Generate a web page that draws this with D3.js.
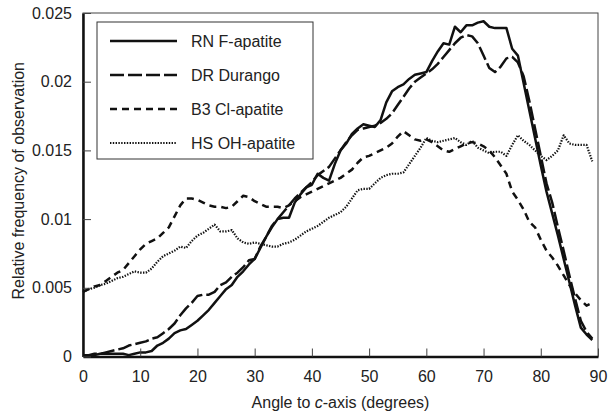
<!DOCTYPE html>
<html>
<head>
<meta charset="utf-8">
<script src="https://cdn.jsdelivr.net/npm/d3@7"></script>
<style>
  body { margin: 0; background: #fff; }
  text { font-family: "Liberation Sans", Arial, sans-serif; fill: #222; }
</style>
</head>
<body>
<svg id="chart" width="616" height="414"></svg>
<script>
// angle bins (degrees)
const angles = [0,1,2,3,4,5,6,7,8,9,10,11,12,13,14,15,16,17,18,19,
  20,21,22,23,24,25,26,27,28,29,30,31,32,33,34,35,36,37,38,39,
  40,41,42,43,44,45,46,47,48,49,50,51,52,53,54,55,56,57,58,59,
  60,61,62,63,64,65,66,67,68,69,70,71,72,73,74,75,76,77,78,79,
  80,81,82,83,84,85,86,87,88,89]

const rnF = [0.0001,0.0001,0.0001,0.0002,0.0002,0.0002,0.0002,0.0002,0.0001,0.0002,
  0.0003,0.0003,0.0004,0.0008,0.0010,0.0013,0.0017,0.0019,0.0020,0.0023,
  0.0026,0.0030,0.0034,0.0039,0.0044,0.0049,0.0052,0.0058,0.0062,0.0067,
  0.0071,0.0079,0.0087,0.0094,0.0100,0.0101,0.0101,0.0112,0.0118,0.0123,
  0.0125,0.0133,0.0130,0.0128,0.0140,0.0150,0.0155,0.0162,0.0166,0.0169,
  0.0168,0.0167,0.0172,0.0185,0.0193,0.0196,0.0198,0.0202,0.0205,0.0206,
  0.0207,0.0215,0.0222,0.0228,0.0227,0.0240,0.0236,0.0241,0.0241,0.0243,
  0.0244,0.0240,0.0239,0.0239,0.0239,0.0224,0.0219,0.0199,0.0179,0.0159,
  0.0139,0.0120,0.0104,0.0088,0.0071,0.0054,0.0037,0.0021,0.0016,0.0012]

const drDurango = [0.0001,0.0001,0.0002,0.0002,0.0003,0.0004,0.0005,0.0006,0.0008,0.0009,
  0.0010,0.0011,0.0013,0.0014,0.0017,0.0020,0.0024,0.0030,0.0035,0.0039,
  0.0044,0.0045,0.0045,0.0047,0.0052,0.0054,0.0058,0.0061,0.0065,0.0070,
  0.0071,0.0080,0.0087,0.0095,0.0100,0.0105,0.0110,0.0115,0.0119,0.0123,
  0.0127,0.0132,0.0135,0.0138,0.0144,0.0150,0.0156,0.0161,0.0165,0.0166,
  0.0167,0.0168,0.0170,0.0173,0.0177,0.0183,0.0189,0.0195,0.0200,0.0203,
  0.0206,0.0209,0.0213,0.0218,0.0223,0.0228,0.0232,0.0234,0.0233,0.0228,
  0.0219,0.0210,0.0207,0.0211,0.0217,0.0218,0.0214,0.0204,0.0186,0.0166,
  0.0146,0.0126,0.0112,0.0094,0.0077,0.0059,0.0042,0.0026,0.0018,0.0013]

const b3Cl = [0.0047,0.0049,0.0051,0.0052,0.0055,0.0058,0.0061,0.0063,0.0068,0.0073,
  0.0078,0.0082,0.0084,0.0086,0.0090,0.0094,0.0102,0.0110,0.0115,0.0115,
  0.0114,0.0112,0.0110,0.0109,0.0109,0.0108,0.0109,0.0113,0.0117,0.0116,
  0.0113,0.0111,0.0109,0.0109,0.0109,0.0108,0.0110,0.0113,0.0116,0.0118,
  0.0120,0.0122,0.0124,0.0126,0.0128,0.0130,0.0133,0.0136,0.0141,0.0145,
  0.0146,0.0148,0.0150,0.0152,0.0155,0.0160,0.0164,0.0161,0.0158,0.0157,
  0.0158,0.0156,0.0153,0.0150,0.0149,0.0151,0.0153,0.0155,0.0156,0.0155,
  0.0153,0.0150,0.0145,0.0139,0.0133,0.0120,0.0114,0.0107,0.0098,0.0094,
  0.0085,0.0077,0.0072,0.0066,0.0059,0.0052,0.0046,0.0041,0.0037,0.0039]

const hsOH = [0.0047,0.0049,0.0050,0.0052,0.0053,0.0055,0.0057,0.0058,0.0060,0.0062,
  0.0061,0.0061,0.0064,0.0069,0.0073,0.0075,0.0077,0.0080,0.0079,0.0084,
  0.0088,0.0090,0.0093,0.0096,0.0091,0.0091,0.0092,0.0086,0.0083,0.0082,
  0.0083,0.0082,0.0081,0.0080,0.0080,0.0082,0.0083,0.0085,0.0088,0.0091,
  0.0093,0.0095,0.0098,0.0101,0.0103,0.0105,0.0109,0.0115,0.0121,0.0122,
  0.0122,0.0126,0.0130,0.0132,0.0133,0.0133,0.0134,0.0140,0.0146,0.0152,
  0.0159,0.0157,0.0156,0.0157,0.0158,0.0159,0.0156,0.0154,0.0157,0.0152,
  0.0150,0.0148,0.0149,0.0149,0.0146,0.0154,0.0161,0.0157,0.0154,0.0150,
  0.0146,0.0143,0.0146,0.0150,0.0161,0.0155,0.0154,0.0154,0.0154,0.0142]

const seriesNames = ['RN F-apatite', 'DR Durango', 'B3 Cl-apatite', 'HS OH-apatite']
const xTicks = [0,10,20,30,40,50,60,70,80,90]
const yTicks = [0,0.005,0.01,0.015,0.02,0.025]

const series = [
  {name: seriesNames[0], values: rnF, dash: null, width: 2.5},
  {name: seriesNames[1], values: drDurango, dash: '14,4', width: 2.5},
  {name: seriesNames[2], values: b3Cl, dash: '7,5', width: 2.5},
  {name: seriesNames[3], values: hsOH, dash: '1.4,1.4', width: 2.2}
]

let margin = {top: 13, right: 18, bottom: 57.5, left: 83},
    outerWidth = 616,
    outerHeight = 414,
    width = outerWidth - margin.left - margin.right,
    height = outerHeight - margin.top - margin.bottom

let svg = d3.select('#chart')

let x = d3.scaleLinear().domain([0, 90]).range([margin.left, margin.left + width])
let y = d3.scaleLinear().domain([0, 0.025]).range([margin.top + height, margin.top])

// frame (top/right thin)
svg.append('rect')
    .attr('x', margin.left).attr('y', margin.top)
    .attr('width', width).attr('height', height)
    .attr('fill', 'none').attr('stroke', '#444').attr('stroke-width', 1)

// lines, drawn back to front
let line = d3.line()
    .x((d, i) => x(angles[i]))
    .y(d => y(d))

series.slice().reverse().forEach(s => {
    svg.append('path')
        .datum(s.values)
        .attr('d', line)
        .attr('fill', 'none')
        .attr('stroke', '#111')
        .attr('stroke-width', s.width)
        .attr('stroke-linejoin', 'round')
        .attr('stroke-dasharray', s.dash)
})

// axes
let xAxis = svg.append('g')
    .attr('transform', `translate(0,${margin.top + height})`)
    .call(d3.axisBottom(x).tickValues(xTicks).tickSizeInner(-8).tickSizeOuter(0).tickPadding(14))
xAxis.select('.domain').attr('stroke', '#111').attr('stroke-width', 2.5)
xAxis.selectAll('.tick line').attr('stroke', '#444')

let yAxis = svg.append('g')
    .attr('transform', `translate(${margin.left},0)`)
    .call(d3.axisLeft(y).tickValues(yTicks).tickFormat(d => +d.toFixed(3))
        .tickSizeInner(-8).tickSizeOuter(0).tickPadding(11))
yAxis.select('.domain').attr('stroke', '#111').attr('stroke-width', 2.5)
yAxis.selectAll('.tick line').attr('stroke', '#444')

svg.selectAll('.tick text')
    .attr('font-size', 16)
    .attr('font-family', '"Liberation Sans", Arial, sans-serif')
    .attr('fill', '#222')

// axis titles
let xTitle = svg.append('text')
    .attr('x', margin.left + width / 2)
    .attr('y', 408)
    .attr('text-anchor', 'middle')
    .attr('font-size', 16)
xTitle.append('tspan').text('Angle to ')
xTitle.append('tspan').attr('font-style', 'italic').text('c')
xTitle.append('tspan').text('-axis (degrees)')

svg.append('text')
    .attr('transform', `translate(24,${margin.top + height / 2 - 4}) rotate(-90)`)
    .attr('text-anchor', 'middle')
    .attr('font-size', 16)
    .text('Relative frequency of observation')

// legend
let legend = svg.append('g')
legend.append('rect')
    .attr('x', 97).attr('y', 22).attr('width', 216).attr('height', 137)
    .attr('fill', '#fff').attr('stroke', '#333').attr('stroke-width', 1)

series.forEach((s, i) => {
    let ly = 41 + i * 34
    legend.append('line')
        .attr('x1', 110).attr('x2', 177)
        .attr('y1', ly).attr('y2', ly)
        .attr('stroke', '#111')
        .attr('stroke-width', s.width)
        .attr('stroke-dasharray', s.dash)
    legend.append('text')
        .attr('x', 191).attr('y', ly + 6)
        .attr('font-size', 16)
        .text(s.name)
})
</script>
</body>
</html>
